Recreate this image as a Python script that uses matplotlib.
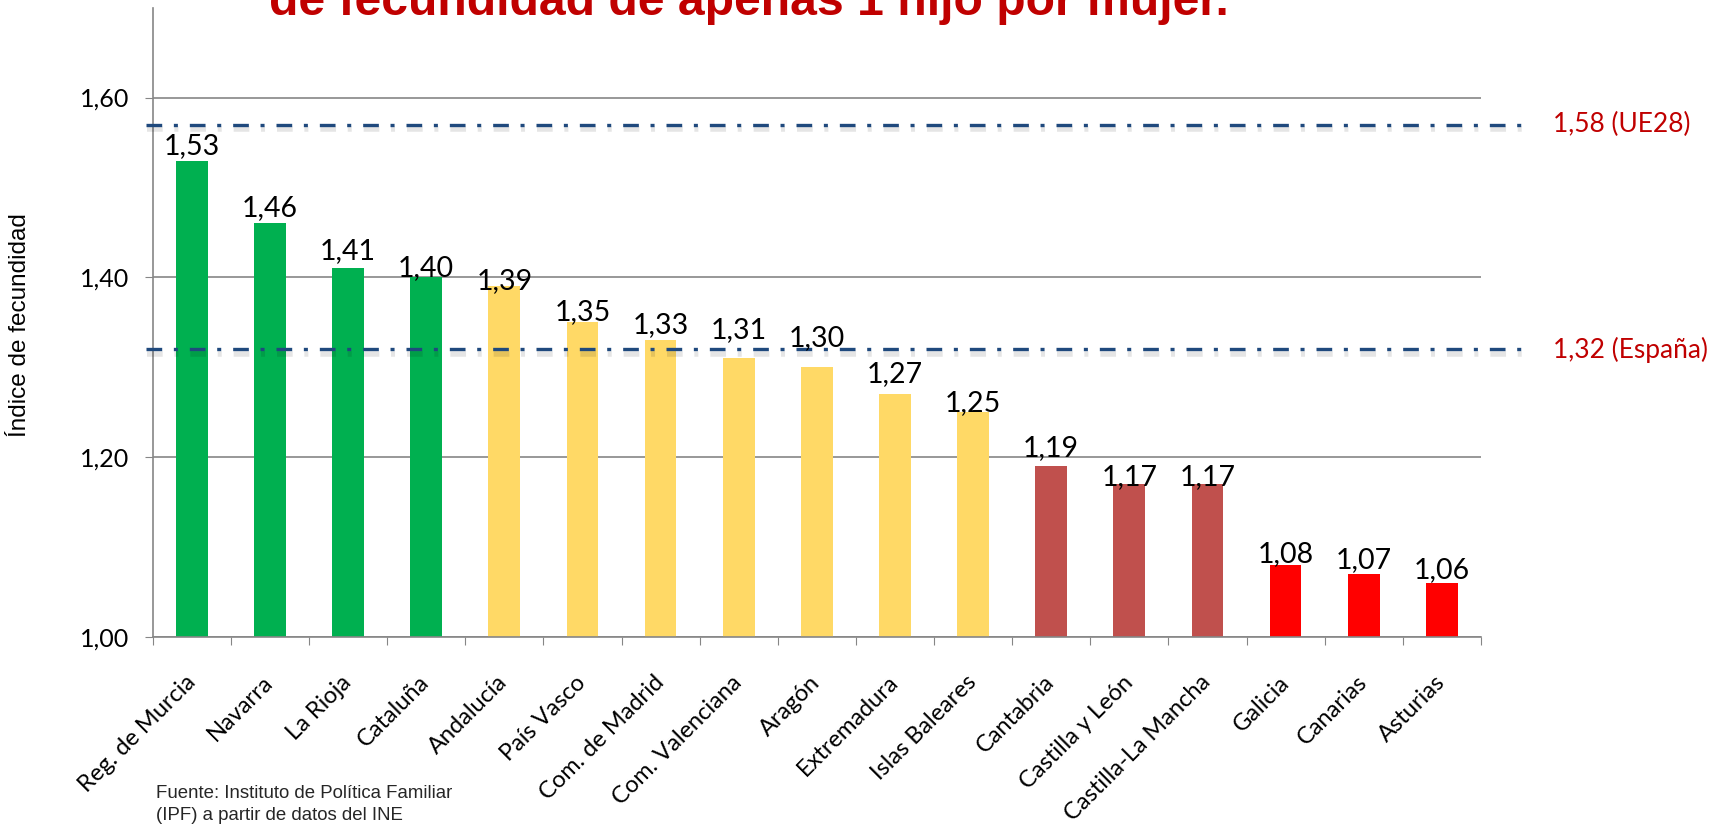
import numpy as np
import matplotlib
matplotlib.use("Agg")
from matplotlib import pyplot as plt
from matplotlib import patheffects as pe

# data
regions = [
    "Reg. de Murcia", "Navarra", "La Rioja", "Cataluña", "Andalucía",
    "País Vasco", "Com. de Madrid", "Com. Valenciana", "Aragón", "Extremadura",
    "Islas Baleares", "Cantabria", "Castilla y León", "Castilla-La Mancha",
    "Galicia", "Canarias", "Asturias",
]
fertility = [1.53, 1.46, 1.41, 1.40, 1.39, 1.35, 1.33, 1.31, 1.30, 1.27,
             1.25, 1.19, 1.17, 1.17, 1.08, 1.07, 1.06]
tier = [0, 0, 0, 0, 1, 1, 1, 1, 1, 1, 1, 2, 2, 2, 3, 3, 3]
spain_value = 1.32
spain_label = "1,32 (España)"
eu_line = 1.57
eu_label = "1,58 (UE28)"
yticks = [1.0, 1.2, 1.4, 1.6]

title = "de fecundidad de apenas 1 hijo por mujer."
ylabel = "Índice de fecundidad"
source = ["Fuente: Instituto de Política Familiar", "(IPF) a partir de datos del INE"]

# style
palette = ["#00B050", "#FFD966", "#C0504D", "#FF0000"]
# gap between bar top and value label (px), labels were hand placed
label_gap_px = [6, 7, 9, 1, -3, 2, 7, 20, 21, 12, 1, 10, -1, -1, 3, 6, 5]
line_color = "#1F497D"
grid_color = "#868686"
red_text = "#C00000"
body_font = ["Lato", "DejaVu Sans"]
arial = ["Liberation Sans", "DejaVu Sans"]
px = 72 / 100  # points per pixel at dpi 100

plt.rcParams["lines.scale_dashes"] = False

fig = plt.figure(figsize=(17.24, 8.25), dpi=100)
ax = fig.add_axes([0.0886, 0.2273, 0.7704, 0.7636])

x = np.arange(len(regions))
ax.bar(x, fertility, width=0.406, color=[palette[t] for t in tier], zorder=2)

ax.set_xlim(-0.5, len(regions) - 0.5)
ax.set_ylim(1.0, 1.7)

# y axis
ax.set_yticks(yticks)
ax.set_yticklabels([f"{v:.2f}".replace(".", ",") for v in yticks],
                   fontsize=18, family=body_font)
ax.tick_params(axis="y", length=6, width=0.8, color=grid_color, pad=11)
ax.yaxis.grid(True, color=grid_color, linewidth=1.2)
ax.set_axisbelow(True)

# x axis: tick marks between categories, labels at centers
ax.set_xticks(np.arange(-0.5, len(regions), 1))
ax.set_xticklabels([])
ax.tick_params(axis="x", which="major", length=6, width=0.8, color=grid_color)
ax.set_xticks(x, minor=True)
ax.set_xticklabels(regions, minor=True, fontsize=17, family=body_font)
ax.tick_params(axis="x", which="minor", length=0, pad=30)
plt.setp(ax.get_xticklabels(minor=True), rotation=45, ha="right",
         va="center", rotation_mode="anchor")

for side in ["top", "right"]:
    ax.spines[side].set_visible(False)
for side in ["left", "bottom"]:
    ax.spines[side].set_color(grid_color)
    ax.spines[side].set_linewidth(1.2)

# reference lines
x0, x1 = -0.58, 17.05
shadow = [pe.SimpleLineShadow(offset=(0.5, -3), shadow_color="k", alpha=0.1,
                              linewidth=4), pe.Normal()]
for val, lab in [(eu_line, eu_label), (spain_value, spain_label)]:
    ax.plot([x0, x1], [val, val], color=line_color, linewidth=2.4,
            dashes=(11.3, 8.4, 2.9, 8.6), clip_on=False, zorder=3,
            path_effects=shadow)
    ax.annotate(lab, xy=(x1, val), xytext=(20.7, 0), textcoords="offset points",
                ha="left", va="center", fontsize=19, color=red_text,
                family=body_font, annotation_clip=False)

# value labels
for xi, v, g in zip(x, fertility, label_gap_px):
    ax.annotate(f"{v:.2f}".replace(".", ","), xy=(xi, v),
                xytext=(0, g * px), textcoords="offset points",
                ha="center", va="baseline", fontsize=20.5, family=body_font,
                zorder=4)

# texts
fig.text(269 / 1724, 1 - 15 / 825, title, ha="left", va="baseline",
         fontsize=34.7, fontweight="bold", color=red_text, family=arial)
fig.text(20 / 1724, 1 - 325 / 825, ylabel, rotation=90, ha="center",
         va="center", fontsize=17.5, family=arial)
fig.text(156 / 1724, 1 - 798 / 825, source[0], ha="left", va="baseline",
         fontsize=13.4, family=arial, color="#262626")
fig.text(156 / 1724, 1 - 820 / 825, source[1], ha="left", va="baseline",
         fontsize=13.4, family=arial, color="#262626")

plt.savefig("out.png", dpi=100)
